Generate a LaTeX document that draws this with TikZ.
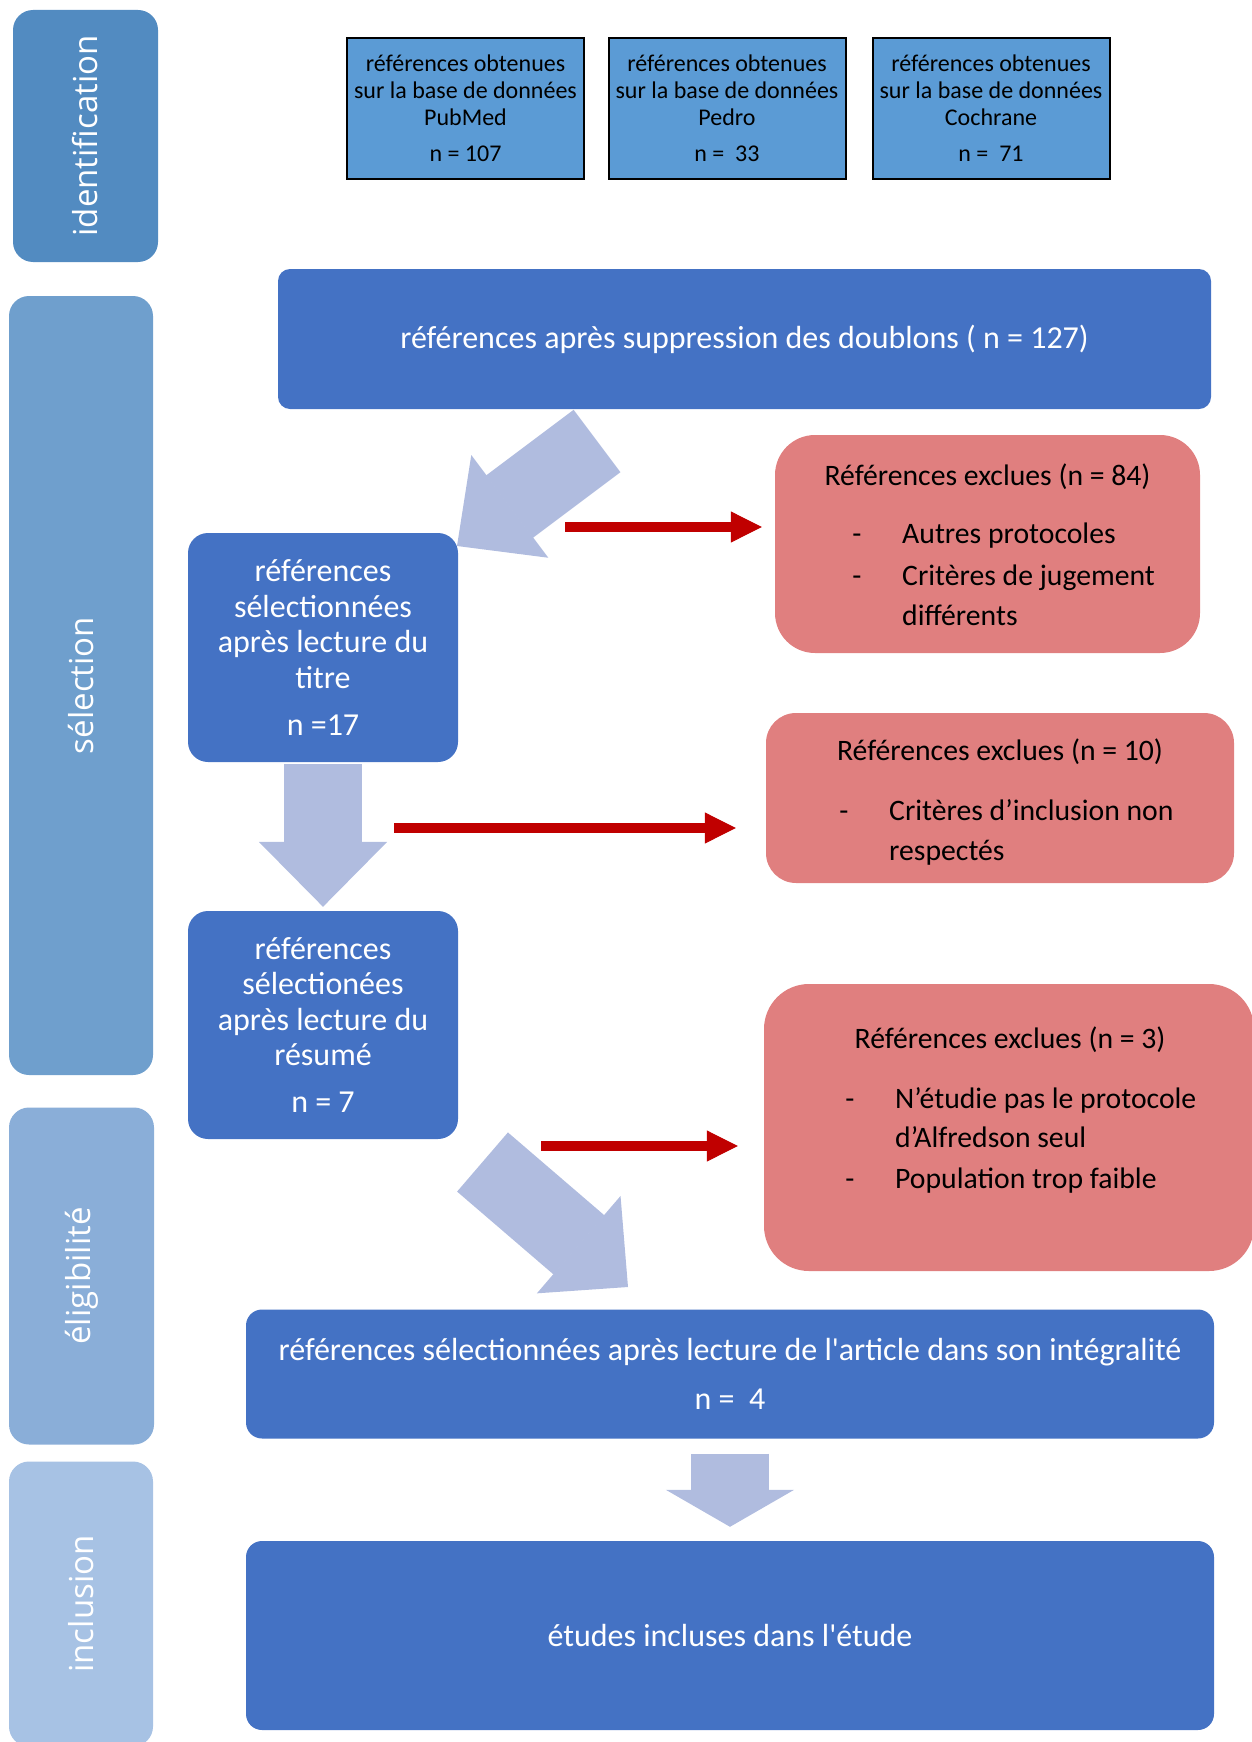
\documentclass[tikz,border=0pt]{standalone}
\usepackage{fontspec}
\setmainfont{Carlito}
\newfontfamily\sidefont{Open Sans}
\usetikzlibrary{arrows.meta,calc,positioning}

\definecolor{identBlue}{RGB}{82,139,193}
\definecolor{selBlue}{RGB}{111,159,205}
\definecolor{eligBlue}{RGB}{138,174,216}
\definecolor{inclBlue}{RGB}{167,194,228}
\definecolor{srcBlue}{RGB}{91,155,213}
\definecolor{boxBlue}{RGB}{68,114,196}
\definecolor{flowLav}{RGB}{176,188,223}
\definecolor{rejRed}{RGB}{192,0,0}
\definecolor{exclRed}{RGB}{224,127,127}

\begin{document}
\begin{tikzpicture}
  [x=1pt,y=-1pt]

\useasboundingbox (0,0) rectangle (1251,1742);

% define styles
\tikzstyle{phase} = [rectangle, rounded corners=20pt, inner sep=0pt];
\tikzstyle{phaseLabel} = [rotate=90, text=white, font=\sidefont\fontsize{33}{38}\selectfont];
\tikzstyle{source} = [rectangle, draw=black, line width=2pt, fill=srcBlue, minimum width=237pt, minimum height=141pt, align=center, font=\fontsize{24}{27}\selectfont];
\tikzstyle{stage} = [rectangle, rounded corners=16pt, fill=boxBlue, text=white, align=center, inner sep=0pt, font=\fontsize{32}{35.6}\selectfont];
\tikzstyle{excl} = [rectangle, rounded corners=40pt, fill=exclRed];
\tikzstyle{exclText} = [inner sep=0pt, font=\fontsize{29.7}{35}\selectfont];
\tikzstyle{flow} = [draw=flowLav, line width=78pt];
\tikzstyle{reject} = [draw=rejRed, line width=10pt, -{Triangle[length=31pt,width=31pt,line width=1pt]}];

% define new commands
\newcommand{\flowArrow}[3]{
  \draw [flow, -{Triangle[length=#3,width=128pt,line width=2pt]}] (#1) -- (#2);
}

\newcommand{\exclItem}[5]{
  \node[exclText, anchor=base] (#1d) at (#2,#4) {-};
  \node[exclText, anchor=base west] (#1) at (#3,#4) {#5};
}

% phase bars
\node[phase, fill=identBlue, minimum width=145pt, minimum height=252pt] (identPh) at (85.5,136) {};
\node[phase, fill=selBlue, minimum width=144pt, minimum height=779pt] (selPh) at (81,685.5) {};
\node[phase, fill=eligBlue, minimum width=145pt, minimum height=337pt] (eligPh) at (81.5,1276) {};
\node[phase, fill=inclBlue, minimum width=144pt, minimum height=285pt] (inclPh) at (81,1604) {};

\node[phaseLabel] (identLbl) at (identPh) {identification};
\node[phaseLabel] (selLbl) at (selPh) {sélection};
\node[phaseLabel] (eligLbl) at (eligPh) {éligibilité};
\node[phaseLabel] (inclLbl) at (inclPh) {inclusion};

% sources
\foreach \x/\base/\cnt/\name in {465.5/PubMed/107/pubmed, 727/Pedro/{\ 33}/pedro, 991/Cochrane/{\ 71}/cochrane}
  \node[source] (\name) at (\x,108.5) {références obtenues\\sur la base de données\\\base\\[9pt]n = \cnt};

% stages
\node[stage, minimum width=933pt, minimum height=140pt, rounded corners=12pt] (dedup) at (744.5,339) {références après suppression des doublons ( n = 127)};
\node[stage, minimum width=270pt, minimum height=229pt, rounded corners=20pt] (titre) at (323,647.5) {références\\sélectionnées\\après lecture du\\titre\\[11.5pt]n =17};
\node[stage, minimum width=270pt, minimum height=228pt, rounded corners=20pt] (resume) at (323,1025) {références\\sélectionées\\après lecture du\\résumé\\[11.5pt]n = 7};
\node[stage, minimum width=968pt, minimum height=129pt] (integral) at (730,1374) {références sélectionnées après lecture de l\textquotesingle article dans son intégralité\\[13.4pt]n = \ 4};
\node[stage, minimum width=968pt, minimum height=189pt] (final) at (730,1635.5) {études incluses dans l\textquotesingle étude};

% exclusions
\node[excl, minimum width=425pt, minimum height=218pt] (excl1) at (987.5,544) {};
\node[exclText, anchor=base] (excl1t) at (987.5,485.5) {Références exclues (n = 84)};
\exclItem{ex1a}{857}{902}{543.5}{Autres protocoles}
\exclItem{ex1b}{857}{902}{585.5}{Critères de jugement}
\node[exclText, anchor=base west] (ex1c) at (902,625.5) {différents};

\node[excl, rounded corners=30pt, minimum width=468pt, minimum height=170pt] (excl2) at (1000,798) {};
\node[exclText, anchor=base] (excl2t) at (1000,760.5) {Références exclues (n = 10)};
\exclItem{ex2a}{844}{889}{820.5}{Critères d’inclusion non}
\node[exclText, anchor=base west] (ex2b) at (889,860.5) {respectés};

\node[excl, rounded corners=45pt, minimum width=490pt, minimum height=287pt] (excl3) at (1009,1127.5) {};
\node[exclText, anchor=base] (excl3t) at (1010,1048.5) {Références exclues (n = 3)};
\exclItem{ex3a}{850}{895}{1108.5}{N’étudie pas le protocole}
\node[exclText, anchor=base west] (ex3b) at (895,1147.5) {d’Alfredson seul};
\exclItem{ex3c}{850}{895}{1188.5}{Population trop faible}

% flow arrows
\coordinate (a1s) at (597,441);
\coordinate (a1e) at (457,546);
\flowArrow{a1s}{a1e}{66pt}
\flowArrow{[yshift=-2pt]titre.south}{[yshift=4pt]resume.north}{65pt}
\coordinate (a3s) at (482.5,1162);
\coordinate (a3e) at (628,1287);
\flowArrow{a3s}{a3e}{65pt}
\flowArrow{[yshift=-15pt]integral.south}{[yshift=14pt]final.north}{37pt}

% rejection arrows
\coordinate (r1) at (565,527);
\draw[reject, shorten >=13pt] (r1) -- (r1 -| excl1.west);
\coordinate (r2) at (394,828);
\draw[reject, shorten >=30pt] (r2) -- (r2 -| excl2.west);
\coordinate (r3) at (541,1146);
\draw[reject, shorten >=26pt] (r3) -- (r3 -| excl3.west);

\end{tikzpicture}
\end{document}
